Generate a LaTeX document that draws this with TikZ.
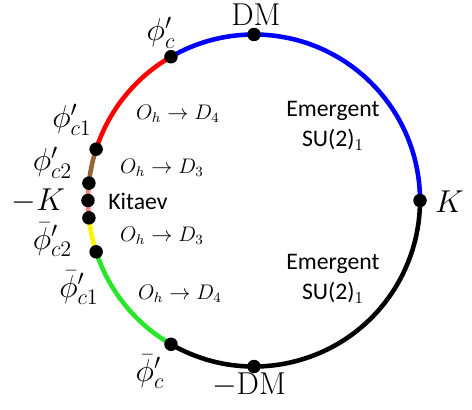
\RequirePackage{fix-cm}
\documentclass[tikz,border=0pt]{standalone}
\usepackage{fontspec}
\setsansfont{Carlito}
\usetikzlibrary{backgrounds}
\definecolor{segbrown}{RGB}{150,100,55}
\definecolor{segpink}{RGB}{245,130,130}
\definecolor{segyellow}{RGB}{255,245,0}
\definecolor{seggreen}{RGB}{40,230,40}
\tikzset{
  dot/.style={circle, fill=black, inner sep=0pt, minimum size=2.7mm},
  seg/.style={line width=2.6pt},
  biglabel/.style={font=\fontsize{18}{20}\selectfont, inner sep=0pt},
  phase/.style={font=\fontsize{12}{14}\selectfont, inner sep=0pt},
  emergent/.style={font=\sffamily\fontsize{13.5}{17}\selectfont, align=center, inner sep=0pt}
}

\begin{document}
\begin{tikzpicture}
    \def\R{3.32}
    \useasboundingbox (-5.08,-4.19) rectangle (4.36,4.01);

    % Points on the circle
    \node[dot] (DM)   at (90:\R)  {};
    \node[dot] (K)    at (0:\R)   {};
    \node[dot] (mDM)  at (270:\R) {};
    \node[dot] (Pc)   at (120:\R) {};
    \node[dot] (Pc1)  at (162:\R) {};
    \node[dot] (Pc2)  at (174:\R) {};
    \node[dot] (mK)   at (180:\R) {};
    \node[dot] (bPc2) at (186:\R) {};
    \node[dot] (bPc1) at (198:\R) {};
    \node[dot] (bPc)  at (240:\R) {};

    % Coloured arcs
    \begin{scope}[on background layer]
    \draw[seg, blue]      (K.center)    arc[start angle=0,   end angle=120, radius=\R];
    \draw[seg, red]       (Pc.center)   arc[start angle=120, end angle=162, radius=\R];
    \draw[seg, segbrown]  (Pc1.center)  arc[start angle=162, end angle=174, radius=\R];
    \draw[seg, segpink]   (Pc2.center)  arc[start angle=174, end angle=186, radius=\R];
    \draw[seg, segyellow] (bPc2.center) arc[start angle=186, end angle=198, radius=\R];
    \draw[seg, seggreen]  (bPc1.center) arc[start angle=198, end angle=240, radius=\R];
    \draw[seg, black]     (bPc.center)  arc[start angle=240, end angle=360, radius=\R];
    \end{scope}

    % Point labels
    \node[biglabel] (DMtext)   at (0.04,3.72)   {DM};
    \node[biglabel] (Ktext)    at (3.91,-0.03)  {$K$};
    \node[biglabel] (mDMtext)  at (-0.1,-3.69)  {$-$DM};
    \node[biglabel] (Pctext)   at (-1.86,3.35)  {$\phi'_c$};
    \node[biglabel] (Pc1text)  at (-3.64,1.61)  {$\phi'_{c1}$};
    \node[biglabel] (Pc2text)  at (-4.03,0.75)  {$\phi'_{c2}$};
    \node[biglabel] (mKtext)   at (-4.31,-0.01) {$-K$};
    \node[biglabel] (bPc2text) at (-4.03,-0.79) {$\bar\phi'_{c2}$};
    \node[biglabel] (bPc1text) at (-3.5,-1.75)  {$\bar\phi'_{c1}$};
    \node[biglabel] (bPctext)  at (-2.08,-3.43) {$\bar\phi'_c$};

    % Phase labels
    \node[phase] (D4up)   at (-1.52,1.73)  {$O_h \to D_4$};
    \node[phase] (D3up)   at (-1.84,0.65)  {$O_h \to D_3$};
    \node[phase, font=\sffamily\fontsize{13.5}{15}\selectfont] (Kitaev) at (-2.32,-0.01) {Kitaev};
    \node[phase] (D3down) at (-1.84,-0.71) {$O_h \to D_3$};
    \node[phase] (D4down) at (-1.48,-1.87) {$O_h \to D_4$};
    \node[emergent] (SUup)   at (1.58,1.49)  {Emergent\\SU(2)$_1$};
    \node[emergent] (SUdown) at (1.58,-1.57) {Emergent\\SU(2)$_1$};
\end{tikzpicture}
\end{document}
